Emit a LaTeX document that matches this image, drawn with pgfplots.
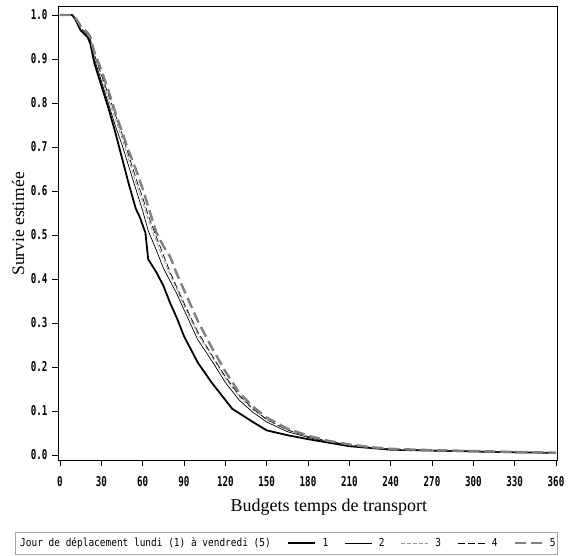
\documentclass[border=0pt]{standalone}
\usepackage{pgfplots}
\pgfplotsset{compat=1.18}
\usepackage{fontspec}
\setmainfont{Liberation Serif}
\newfontfamily\tickfont[FakeStretch=0.68]{DejaVu Sans Mono}
\newfontfamily\legfont[FakeStretch=0.86]{DejaVu Sans Mono}

\pgfplotstableread{
t s
0 1
9 1
12 0.985
15 0.965
20 0.95
22 0.935
25 0.89
30 0.84
35 0.79
40 0.735
45 0.675
50 0.615
55 0.56
58 0.54
62 0.505
64 0.445
70 0.415
75 0.385
80 0.345
85 0.31
90 0.27
100 0.21
110 0.165
120 0.125
125 0.105
130 0.095
140 0.075
150 0.056
165 0.045
180 0.036
195 0.028
210 0.02
225 0.016
240 0.012
270 0.01
300 0.008
330 0.006
360 0.005
}\dayone

\pgfplotstableread{
t s
0 1
9 1
12 0.985
15 0.965
20 0.95
22 0.94
25 0.9
30 0.85
35 0.80
40 0.75
45 0.705
50 0.655
55 0.605
60 0.555
64 0.51
70 0.465
75 0.425
80 0.395
85 0.365
90 0.33
100 0.262
110 0.215
120 0.165
130 0.125
140 0.097
150 0.075
165 0.053
180 0.04
195 0.03
210 0.022
225 0.017
240 0.013
270 0.01
300 0.008
330 0.006
360 0.005
}\daytwo

\pgfplotstableread{
t s
0 1
9 1
12 0.99
15 0.97
20 0.955
22 0.945
25 0.905
30 0.86
35 0.81
40 0.765
45 0.72
50 0.67
55 0.62
60 0.575
64 0.535
70 0.485
75 0.445
80 0.41
85 0.375
90 0.34
100 0.275
110 0.225
120 0.175
130 0.133
140 0.103
150 0.08
165 0.056
180 0.042
195 0.031
210 0.023
225 0.017
240 0.013
270 0.01
300 0.008
330 0.006
360 0.005
}\daythree

\pgfplotstableread{
t s
0 1
9 1
12 0.99
15 0.97
20 0.955
22 0.945
25 0.91
30 0.865
35 0.82
40 0.775
45 0.73
50 0.68
55 0.63
60 0.585
64 0.545
70 0.495
75 0.455
80 0.415
85 0.38
90 0.345
100 0.28
110 0.228
120 0.178
130 0.136
140 0.105
150 0.081
165 0.057
180 0.042
195 0.031
210 0.023
225 0.017
240 0.013
270 0.01
300 0.008
330 0.006
360 0.005
}\dayfour

\pgfplotstableread{
t s
0 1
9 1
12 0.99
15 0.975
20 0.96
22 0.95
25 0.915
30 0.875
35 0.83
40 0.78
45 0.735
50 0.69
55 0.65
60 0.605
65 0.555
70 0.505
75 0.475
80 0.45
85 0.41
90 0.375
100 0.305
110 0.245
120 0.19
130 0.142
140 0.11
150 0.085
165 0.06
180 0.044
195 0.032
210 0.024
225 0.018
240 0.014
270 0.011
300 0.009
330 0.007
360 0.005
}\dayfive

\begin{document}
\begin{tikzpicture}
\path[use as bounding box] (-58pt,-95pt) rectangle (510pt,460pt);
\begin{axis}[
  scale only axis,
  width=499pt, height=454pt,
  xmin=-1.45, xmax=360.73,
  ymin=-0.0114, ymax=1.0205,
  xtick={0,30,60,90,120,150,180,210,240,270,300,330,360},
  ytick={0,0.1,0.2,0.3,0.4,0.5,0.6,0.7,0.8,0.9,1.0},
  tick align=outside, tick pos=left,
  major tick length=6pt,
  tick style={black, line width=0.6pt},
  axis line style={black, line width=0.8pt},
  /pgf/number format/assume math mode=true,
  xticklabel style={font=\tickfont\bfseries\fontsize{13.5}{13.5}\selectfont, yshift=-7pt},
  yticklabel style={font=\tickfont\bfseries\fontsize{13.5}{13.5}\selectfont, xshift=-1pt,
    /pgf/number format/fixed, /pgf/number format/fixed zerofill, /pgf/number format/precision=1},
  xlabel={Budgets temps de transport},
  ylabel={Survie estimée},
  xlabel style={font=\fontsize{18}{18}\selectfont, at={(axis description cs:0.543,-0.1035)}, anchor=center},
  ylabel style={font=\fontsize{17.5}{17.5}\selectfont, at={(axis description cs:-0.080,0.52)}, anchor=center},
  legend columns=6,
  legend cell align=left,
  legend image code/.code={\draw[#1] (0pt,0pt) -- (27pt,0pt);},
  legend style={draw=none, fill=none, at={(axis description cs:-0.0902,-0.1828)}, anchor=west,
    inner sep=0pt, font=\legfont\fontsize{11}{11}\selectfont,
    nodes={inner xsep=0pt},
    /tikz/every odd column/.append style={column sep=7pt},
    /tikz/every even column/.append style={column sep=16pt}},
]
\addlegendimage{empty legend}
\addlegendentry{Jour de déplacement lundi (1) à vendredi (5)}
\addplot[black, line width=1.8pt] table[x=t, y=s] {\dayone};
\addlegendentry{1}
\addplot[black, line width=0.7pt] table[x=t, y=s] {\daytwo};
\addlegendentry{2}
\addplot[black!40, line width=0.8pt, dash pattern=on 4pt off 2pt] table[x=t, y=s] {\daythree};
\addlegendentry{3}
\addplot[black, line width=0.7pt, dash pattern=on 7pt off 3pt] table[x=t, y=s] {\dayfour};
\addlegendentry{4}
\addplot[black!50, line width=2.4pt, dash pattern=on 11pt off 5pt] table[x=t, y=s] {\dayfive};
\addlegendentry{5}
\end{axis}
\draw[black!35, line width=0.8pt] (-43pt,-72pt) rectangle (499pt,-94pt);
\end{tikzpicture}
\end{document}
